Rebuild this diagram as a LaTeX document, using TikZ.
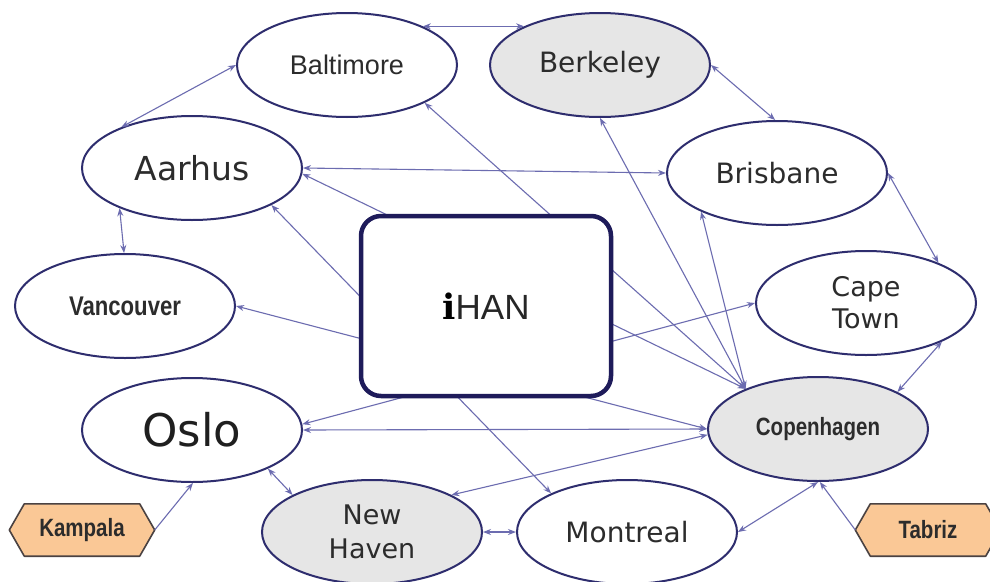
\documentclass[tikz,border=0pt]{standalone}
\usepackage{fontspec}
\setmainfont{DejaVu Sans}
\newfontfamily\arialf{Liberation Sans}
\newfontfamily\narrowf[FakeStretch=0.82]{Liberation Sans}
\newfontfamily\serifbf{DejaVu Serif}
\usetikzlibrary{shapes.geometric,arrows.meta,backgrounds,calc}

\definecolor{edgec}{HTML}{6C6CB0}
\definecolor{nodeborder}{HTML}{2E2D6E}
\definecolor{boxborder}{HTML}{1E1B5A}
\definecolor{grayfill}{HTML}{E6E6E6}
\definecolor{peach}{HTML}{FAC896}
\definecolor{hexborder}{HTML}{4A4242}
\definecolor{txt}{HTML}{2C2C2C}

\tikzset{
  city/.style={ellipse, draw=nodeborder, line width=2pt, fill=white,
    minimum width=220pt, minimum height=104pt, inner sep=0pt, text=txt, align=center},
  grayc/.style={city, fill=grayfill},
  hexlbl/.style={rectangle, minimum width=145pt, minimum height=52pt, inner sep=0pt,
    text=txt, font=\narrowf\bfseries\fontsize{25}{30}\selectfont},
  hexshape/.style={fill=peach, draw=hexborder, line width=1.6pt, line join=round},
  link/.style={draw=edgec, line width=1.1pt, >={Stealth[length=8pt,width=6pt]}, <->},
  onelink/.style={draw=edgec, line width=1.1pt, >={Stealth[length=8pt,width=6pt]}, ->},
  hubbox/.style={draw=boxborder, line width=4.5pt, fill=white, rounded corners=20pt,
    minimum width=250pt, minimum height=180pt, inner sep=0pt}
}

\begin{document}
\begin{tikzpicture}[x=1pt,y=-1pt]
\useasboundingbox (0,0) rectangle (990,581);

% city nodes
\node[city, font=\arialf\fontsize{27}{30}\selectfont] (balt) at (347,65) {Baltimore};
\node[grayc, font=\fontsize{28}{32}\selectfont] (berk) at (600,65) {Berkeley};
\node[city, font=\fontsize{33}{38}\selectfont] (aarh) at (192,168) {Aarhus};
\node[city, font=\fontsize{28}{32}\selectfont] (bris) at (777,173) {Brisbane};
\node[city, font=\narrowf\bfseries\fontsize{27}{30}\selectfont] (vanc) at (125,306) {Vancouver};
\node[city, font=\fontsize{27}{32}\selectfont] (cape) at (866,303) {Cape\\Town};
\node[city, font=\fontsize{45}{50}\selectfont, text=black!88] (oslo) at (192,430) {Oslo};
\node[grayc, font=\narrowf\bfseries\fontsize{25}{30}\selectfont] (copen) at (818,429) {Copenhagen};
\node[grayc, font=\fontsize{27}{34}\selectfont] (nhav) at (372,532) {New\\Haven};
\node[city, font=\fontsize{28}{32}\selectfont] (mont) at (627,532) {Montreal};
\node[hexlbl] (kamp) at (82,530) {Kampala};
\node[hexlbl] (tabr) at (928,530) {Tabriz};

% background and hexagons
\begin{scope}[on background layer]
\fill[white] (0,0) rectangle (990,581);
\path[hexshape] (kamp.west) -- ([xshift=15pt]kamp.north west) -- ([xshift=-15pt]kamp.north east)
  -- (kamp.east) -- ([xshift=-15pt]kamp.south east) -- ([xshift=15pt]kamp.south west) -- cycle;
\path[hexshape] (tabr.west) -- ([xshift=15pt]tabr.north west) -- ([xshift=-15pt]tabr.north east)
  -- (tabr.east) -- ([xshift=-15pt]tabr.south east) -- ([xshift=15pt]tabr.south west) -- cycle;
\end{scope}

% connectors
\draw[link] (balt.27) -- (berk.153);
\draw[link] (aarh.150) -- (balt.west);
\draw[link] (aarh.209) -- (vanc.91);
\draw[link] (aarh.east) -- (bris.west);
\draw[link] (aarh.-3) -- (copen.151);
\draw[link] (balt.-26) -- (copen.151);
\draw[link] (berk.-90) -- (copen.151);
\draw[link] (berk.east) -- (bris.92);
\draw[link] (bris.207) -- (copen.151);
\draw[link] (bris.east) -- (cape.29);
\draw[link] (cape.-27) -- (copen.25);
\draw[link] (vanc.east) -- (copen.west);
\draw[link] (aarh.-25) -- (mont.153);
\draw[link] (oslo.east) -- (copen.west);
\draw[link] (oslo.3) -- (cape.west);
\draw[link] (copen.183) -- (nhav.25);
\draw[link] (oslo.-27) -- (nhav.155);
\draw[onelink] (kamp.east) -- (oslo.-89);
\draw[link] (nhav.east) -- (mont.west);
\draw[link] (mont.east) -- (copen.-90);
\draw[onelink] (tabr.west) -- (copen.-88);

% hub
\node[hubbox] (ihan) at (486,306)
  {\fontsize{35}{40}\selectfont{\serifbf\bfseries i}{\arialf\color{black!85}HAN}};
\end{tikzpicture}
\end{document}
